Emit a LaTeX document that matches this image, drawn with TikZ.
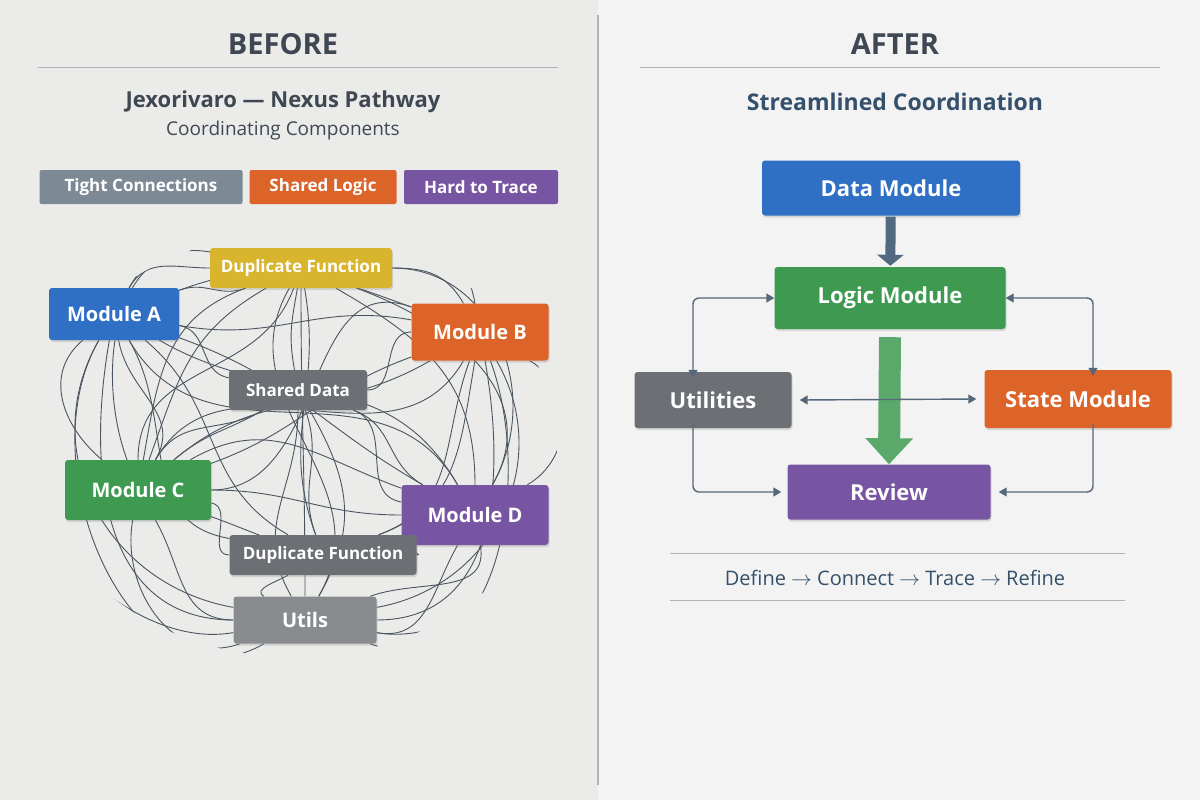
\documentclass[tikz,border=0pt]{standalone}
\usepackage{fontspec}
\setmainfont{Open Sans}
\usetikzlibrary{arrows.meta,shadows}
\pgfdeclarelayer{panel}
\pgfdeclarelayer{wires}
\pgfsetlayers{panel,wires,main}
\definecolor{bgL}{HTML}{EBEBEA}
\definecolor{bgR}{HTML}{F3F3F3}
\definecolor{ink}{HTML}{3F4852}
\definecolor{navy}{HTML}{34506B}
\definecolor{cblue}{HTML}{2F6FC4}
\definecolor{corange}{HTML}{DD6428}
\definecolor{cpurple}{HTML}{7855A3}
\definecolor{cgreen}{HTML}{3E9A50}
\definecolor{cyellow}{HTML}{D9B52E}
\definecolor{cgray}{HTML}{6C6F73}
\definecolor{cslate}{HTML}{7D8A95}
\definecolor{wire}{HTML}{4A5560}
\definecolor{conn}{HTML}{55677A}
\tikzset{
  box/.style={rectangle,rounded corners=3pt,text=white,font=\bfseries\fontsize{20}{24}\selectfont,inner sep=0pt,drop shadow={shadow xshift=1pt,shadow yshift=-2pt,opacity=0.25}},
  rbox/.style={box,font=\bfseries\fontsize{22}{26}\selectfont},
  sbox/.style={box,font=\bfseries\fontsize{17}{20}\selectfont},
  tag/.style={rectangle,rounded corners=2pt,text=white,font=\bfseries\fontsize{17}{20}\selectfont,inner sep=0pt,minimum height=34pt},
  wirel/.style={draw=wire,line width=0.9pt},
  cn/.style={draw=conn,line width=1.4pt,rounded corners=6pt},
  tip/.style={-{Triangle[length=8pt,width=9pt]}},
  tips/.style={{Triangle[length=8pt,width=9pt]}-{Triangle[length=8pt,width=9pt]}},
}
\begin{document}
\begin{tikzpicture}[x=1pt,y=-1pt]
\useasboundingbox (0,0) rectangle (1200,800);
\begin{pgfonlayer}{panel}
\fill[bgL] (0,0) rectangle (598,800);
\fill[bgR] (598,0) rectangle (1200,800);
\draw[gray!60,line width=1.5pt] (598,15) -- (598,785);
\end{pgfonlayer}
% left header
\node[font=\bfseries\fontsize{29}{33}\selectfont,text=ink] (tb) at (283,44) {BEFORE};
\draw[gray!60,line width=1pt] (38,68) -- (558,68);
\node[font=\bfseries\fontsize{22}{26}\selectfont,text=ink] (t1) at (283,102) {Jexorivaro — Nexus Pathway};
\node[font=\fontsize{19}{23}\selectfont,text=ink] (t2) at (283,131) {Coordinating Components};
\node[tag,fill=cslate,minimum width=203pt] (g1) at (141,187) {Tight Connections};
\node[tag,fill=corange,minimum width=147pt] (g2) at (323,187) {Shared Logic};
\node[tag,fill=cpurple,minimum width=154pt] (g3) at (481,187) {Hard to Trace};
% left nodes
\node[sbox,fill=cyellow,minimum width=182pt,minimum height=40pt] (df1) at (301,268) {Duplicate Function};
\node[box,fill=cblue,minimum width=130pt,minimum height=52pt] (ma) at (114,314) {Module A};
\node[box,fill=corange,minimum width=137pt,minimum height=57pt] (mb) at (480,332) {Module B};
\node[sbox,fill=cgray,minimum width=138pt,minimum height=40pt] (sd) at (298,390) {Shared Data};
\node[box,fill=cgreen,minimum width=146pt,minimum height=60pt] (mc) at (138,490) {Module C};
\node[box,fill=cpurple,minimum width=147pt,minimum height=60pt] (md) at (475,515) {Module D};
\node[sbox,fill=cgray,minimum width=187pt,minimum height=40pt] (df2) at (323,555) {Duplicate Function};
\node[box,fill=cgray!80,minimum width=143pt,minimum height=47pt] (ut) at (305,620) {Utils};
% tangle
\begin{pgfonlayer}{wires}
\begin{scope}
\clip (295,445) ellipse [x radius=262pt,y radius=212pt];
\foreach \a/\b/\o/\i in {
 ma/mb/20/160, ma/mb/-10/170, ma/md/-20/150, ma/md/-60/120, ma/ut/-100/180, ma/ut/200/190,
 ma/df2/-40/150, ma/mc/220/140, ma/mc/-80/60, ma/sd/-10/170, ma/df1/60/180,
 mb/mc/200/20, mb/mc/160/0, mb/ut/-80/0, mb/ut/-20/-10, mb/df2/-110/20, mb/md/-30/30,
 mb/sd/180/0, mb/df1/120/0, mb/ma/100/60, mb/mc/-150/40,
 df1/mc/200/80, df1/md/-30/90, df1/ut/-90/90, df1/ut/-120/60, df1/df2/-80/110, df1/mc/170/110,
 df1/ma/-160/20, df1/md/0/60, df1/sd/-100/100,
 mc/md/0/180, mc/md/-20/200, mc/ut/-60/180, mc/ut/-100/200, mc/df2/-10/180, mc/sd/40/-150,
 mc/mb/60/-120, mc/df1/90/-110,
 md/ut/-120/-10, md/ut/-80/20, md/df2/200/0, md/sd/150/-20, md/ma/120/-30, md/mc/160/30,
 sd/ut/-90/120, sd/ut/-60/60, sd/df2/-70/110, sd/mc/-150/60, sd/md/-20/170,
 df2/ut/-150/150, df2/ma/170/-60, df2/mb/20/-100, ut/ma/170/-120, ut/mb/10/-60,
 ma/ut/240/210, mb/ut/-70/-20, df1/mc/-150/70, md/df1/60/-20}
 { \draw[wirel] (\a) to[out=\o,in=\i,looseness=1.1] (\b); }
\end{scope}
\end{pgfonlayer}
% right header
\node[font=\bfseries\fontsize{29}{33}\selectfont,text=ink] (ta) at (895,44) {AFTER};
\draw[gray!60,line width=1pt] (640,68) -- (1160,68);
\node[font=\bfseries\fontsize{23}{27}\selectfont,text=navy] (t3) at (895,102) {Streamlined Coordination};
% right nodes
\node[rbox,fill=cblue,minimum width=258pt,minimum height=55pt] (dm) at (891,188) {Data Module};
\node[rbox,fill=cgreen,minimum width=231pt,minimum height=62pt] (lm) at (890,298) {Logic Module};
\node[rbox,fill=cgray,minimum width=157pt,minimum height=56pt] (uu) at (713,400) {Utilities};
\node[rbox,fill=corange,minimum width=187pt,minimum height=58pt] (sm) at (1078,399) {State Module};
\node[rbox,fill=cpurple,minimum width=203pt,minimum height=55pt] (rv) at (889,492) {Review};
% right connectors
\draw[-{Triangle[length=11pt,width=26pt]},line width=10pt,draw=navy!85,shorten <=1pt,shorten >=1pt] (dm) -- (lm);
\begin{pgfonlayer}{wires}
\draw[-{Triangle[length=26pt,width=46pt]},line width=22pt,draw=cgreen!85] (lm.south) ++(0,8) coordinate (g0) -- (rv.north);
\end{pgfonlayer}
\draw[cn,tips] (lm.west) -| ([xshift=-20pt,yshift=-6pt]uu.north);
\draw[cn,tips] (lm.east) -| ([xshift=15pt,yshift=-6pt]sm.north);
\draw[cn,tips] (uu.east) ++(8,0) coordinate (u0) -- ([xshift=-8pt]sm.west);
\draw[cn,tip] ([xshift=-20pt,yshift=4pt]uu.south) |- ([xshift=-6pt]rv.west);
\draw[cn,tip] ([xshift=15pt,yshift=4pt]sm.south) |- ([xshift=8pt]rv.east);
% bottom
\draw[gray!60,line width=1pt] (670,553) -- (1125,553);
\node[font=\fontsize{20}{24}\selectfont,text=navy] (fl) at (895,578) {Define $\rightarrow$ Connect $\rightarrow$ Trace $\rightarrow$ Refine};
\draw[gray!60,line width=1pt] (670,600) -- (1125,600);
\end{tikzpicture}
\end{document}
